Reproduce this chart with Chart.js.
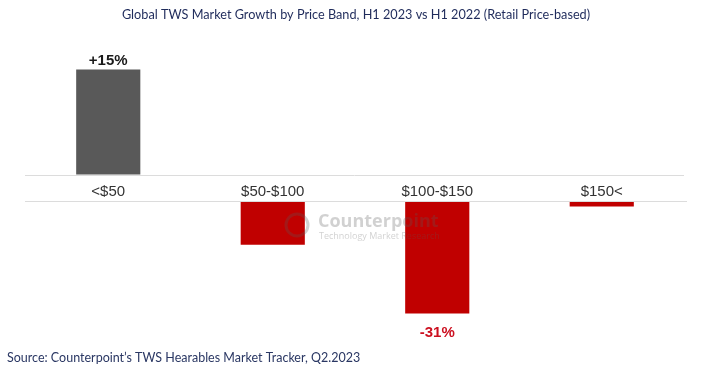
<!DOCTYPE html>
<html>
<head>
<meta charset="utf-8">
<script src="https://cdn.jsdelivr.net/npm/chart.js@4"></script>
<style>
html,body{margin:0;padding:0;background:#fff;}
#wrap{width:702px;height:371px;}
</style>
</head>
<body>
<div id="wrap"><canvas id="c" width="702" height="371"></canvas></div>
<script>
const titleText = 'Global TWS Market Growth by Price Band, H1 2023 vs H1 2022 (Retail Price-based)';
const sourceText = 'Source: Counterpoint\u2019s TWS Hearables Market Tracker, Q2.2023';
const categories = ['<$50', '$50-$100', '$100-$150', '$150<'];
const growthUp = [15, null, null, null];
const growthDown = [null, -12, -31, -1.4];
const shownLabels = ['+15%', null, '-31%', null];

const textPlugin = {
  id: 'texts',
  afterDatasetsDraw(chart) {
    const ctx = chart.ctx;
    const ca = chart.chartArea;
    // baselines (zero lines)
    ctx.save();
    ctx.strokeStyle = '#dcdcdc';
    ctx.lineWidth = 1;
    const z1 = Math.round(chart.scales.yPos.getPixelForValue(0)) + 0.5;
    const z2 = Math.round(chart.scales.yNeg.getPixelForValue(0)) - 0.5;
    ctx.beginPath();
    ctx.moveTo(ca.left - 1, z1); ctx.lineTo(ca.right, z1);
    ctx.moveTo(ca.left - 1, z2); ctx.lineTo(ca.right + 3, z2);
    ctx.stroke();
    ctx.restore();

    // value labels
    ctx.save();
    ctx.font = 'bold 15px "Liberation Sans", Arial, sans-serif';
    ctx.textAlign = 'center';
    ctx.textBaseline = 'alphabetic';
    chart.data.datasets.forEach((ds, di) => {
      const meta = chart.getDatasetMeta(di);
      meta.data.forEach((bar, i) => {
        const lbl = shownLabels[i];
        if (ds.data[i] == null || !lbl) return;
        if (ds.data[i] >= 0) {
          ctx.fillStyle = '#1a1a1a';
          ctx.fillText(lbl, bar.x, bar.y - 5);
        } else {
          ctx.fillStyle = '#cc1020';
          ctx.fillText(lbl, bar.x, bar.y + 23);
        }
      });
    });
    ctx.restore();

    // watermark
    ctx.save();
    ctx.fillStyle = 'rgba(90,90,90,0.28)';
    ctx.strokeStyle = 'rgba(90,90,90,0.28)';
    ctx.lineWidth = 3;
    ctx.beginPath();
    ctx.arc(297, 225, 11, 0, Math.PI * 2);
    ctx.stroke();
    ctx.font = 'bold 18px "Open Sans", sans-serif';
    ctx.textAlign = 'left';
    ctx.fillText('Counterpoint', 318, 227);
    ctx.font = '9px "Open Sans", sans-serif';
    ctx.fillText('Technology Market Research', 319, 239);
    ctx.restore();

    // title & source
    ctx.save();
    ctx.fillStyle = '#1f2b5b';
    ctx.font = '12.7px Lato, sans-serif';
    ctx.textAlign = 'center';
    ctx.textBaseline = 'alphabetic';
    ctx.fillText(titleText, 356, 19);
    ctx.fillStyle = '#2a3763';
    ctx.font = '12.5px Lato, sans-serif';
    ctx.textAlign = 'left';
    ctx.fillText(sourceText, 7, 362);
    ctx.restore();
  }
};

new Chart(document.getElementById('c'), {
  type: 'bar',
  data: {
    labels: categories,
    datasets: [
      { data: growthUp, yAxisID: 'yPos', backgroundColor: '#595959', borderWidth: 0 },
      { data: growthDown, yAxisID: 'yNeg', backgroundColor: '#c00000', borderWidth: 0 }
    ]
  },
  options: {
    responsive: false,
    devicePixelRatio: 1,
    animation: false,
    layout: { padding: { top: 30, bottom: 31, left: 26, right: 18 } },
    datasets: { bar: { grouped: false, barPercentage: 0.39, categoryPercentage: 1 } },
    plugins: { legend: { display: false }, tooltip: { enabled: false }, title: { display: false } },
    scales: {
      x: {
        position: { yPos: 0 },
        grid: { display: false, drawTicks: false },
        border: { display: false },
        ticks: { padding: 8, color: '#333333', font: { family: '"Liberation Sans", Arial, sans-serif', size: 15 }, maxRotation: 0 }
      },
      yPos: { display: false, min: -23.643, max: 20.643 },
      yNeg: { display: false, min: -38.33, max: 47.47 }
    }
  },
  plugins: [textPlugin]
});
</script>
</body>
</html>
